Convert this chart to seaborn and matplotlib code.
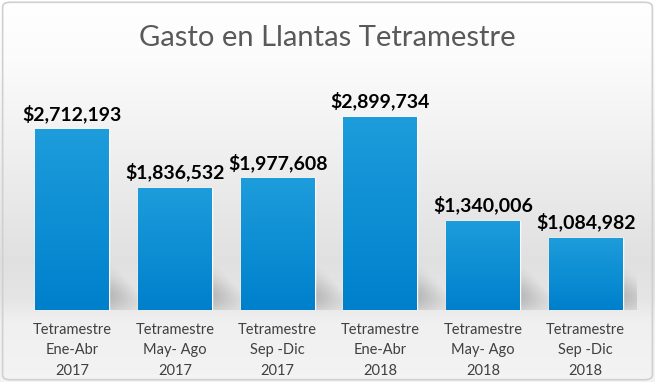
import numpy as np
import pandas as pd
import matplotlib
matplotlib.use("Agg")
import matplotlib.pyplot as plt
import seaborn as sns
from matplotlib.patches import FancyBboxPatch

# data
periodos = ["Tetramestre\nEne-Abr\n2017", "Tetramestre\nMay- Ago\n2017",
            "Tetramestre\nSep -Dic\n2017", "Tetramestre\nEne-Abr\n2018",
            "Tetramestre\nMay- Ago\n2018", "Tetramestre\nSep -Dic\n2018"]
gasto = [2712193, 1836532, 1977608, 2899734, 1340006, 1084982]

df = pd.DataFrame({"periodo": periodos, "gasto": gasto})

sns.set_theme(style="white")
plt.rcParams["font.family"] = ["Lato", "DejaVu Sans"]

W, H = 655, 382
fig = plt.figure(figsize=(W / 100, H / 100), dpi=100)

# background: white at top, gray band behind bars, lighter below
bg = fig.add_axes([0, 0, 1, 1], zorder=-5)
rows = np.arange(H)
shade = np.interp(rows, [0, 60, 150, 260, 300, 320, 382],
                  [1.0, 0.985, 0.94, 0.88, 0.90, 0.94, 0.955])
bg.imshow(np.dstack([shade.reshape(-1, 1)] * 3), aspect="auto", extent=[0, 1, 0, 1])
bg.add_patch(FancyBboxPatch((0.004, 0.006), 0.992, 0.988,
                            boxstyle="round,pad=0,rounding_size=0.012",
                            fill=False, ec="#d0d0d0", lw=1.2, transform=bg.transAxes))
bg.set_xlim(0, 1); bg.set_ylim(0, 1)
bg.axis("off")

ax = fig.add_axes([21 / W, 1 - 310 / H, 616 / W, 220 / H])
ax.patch.set_alpha(0)
sns.barplot(data=df, x="periodo", y="gasto", color="#0a8ad2", width=0.72, ax=ax, zorder=3)
ax.set_ylim(0, 3.3e6)
ax.set_xlim(-0.5, 5.5)

# soft floor shadows to the right of each bar
gx = np.linspace(-0.5, 5.5, 600)
gy = np.linspace(0, 0.9e6, 120)
GX, GY = np.meshgrid(gx, gy)
alpha = np.zeros_like(GX)
for p in ax.patches:
    xr, h = p.get_x() + p.get_width(), p.get_height()
    dx = GX - xr
    reach = 0.45 * np.clip(1 - GY / 0.75e6, 0, 1)
    a = np.where((dx > -0.05) & (dx < reach),
                 0.40 * np.clip(1 - dx / np.maximum(reach, 1e-6), 0, 1), 0)
    a *= np.exp(-((GY - 0.2e6) / 0.28e6) ** 2)
    alpha = np.maximum(alpha, a)
shadow_img = np.zeros(GX.shape + (4,))
shadow_img[..., :3] = 0.45
shadow_img[..., 3] = alpha
ax.imshow(shadow_img, origin="lower", aspect="auto",
          extent=[-0.5, 5.5, 0, 0.9e6], zorder=1, interpolation="bilinear")

# gradient fill on bars + value labels
bar_grad = np.linspace(0, 1, 256).reshape(-1, 1)
top_c = np.array([0x1d, 0x9d, 0xdb]) / 255
bot_c = np.array([0x00, 0x80, 0xcc]) / 255
img = top_c * (1 - bar_grad[..., None]) + bot_c * bar_grad[..., None]
for p in ax.patches:
    x0, w, h = p.get_x(), p.get_width(), p.get_height()
    im = ax.imshow(img, aspect="auto", extent=[x0, x0 + w, 0, h], zorder=4)
    im.set_clip_path(p)
    ax.text(x0 + w / 2, h + 0.09e6, f"${h:,.0f}", ha="center", va="bottom",
            fontsize=14, fontweight="bold", color="black", zorder=5)

ax.set_xlabel("")
ax.set_ylabel("")
ax.set_yticks([])
ax.tick_params(axis="x", length=0, pad=9, labelsize=10.5, labelcolor="#404040")
for lbl in ax.get_xticklabels():
    lbl.set_linespacing(1.62)
sns.despine(ax=ax, left=True, bottom=True)

fig.text(0.5, 1 - 38 / H, "Gasto en Llantas Tetramestre", ha="center", va="center",
         fontsize=21, color="#595959")

fig.savefig("out.png", dpi=100)
